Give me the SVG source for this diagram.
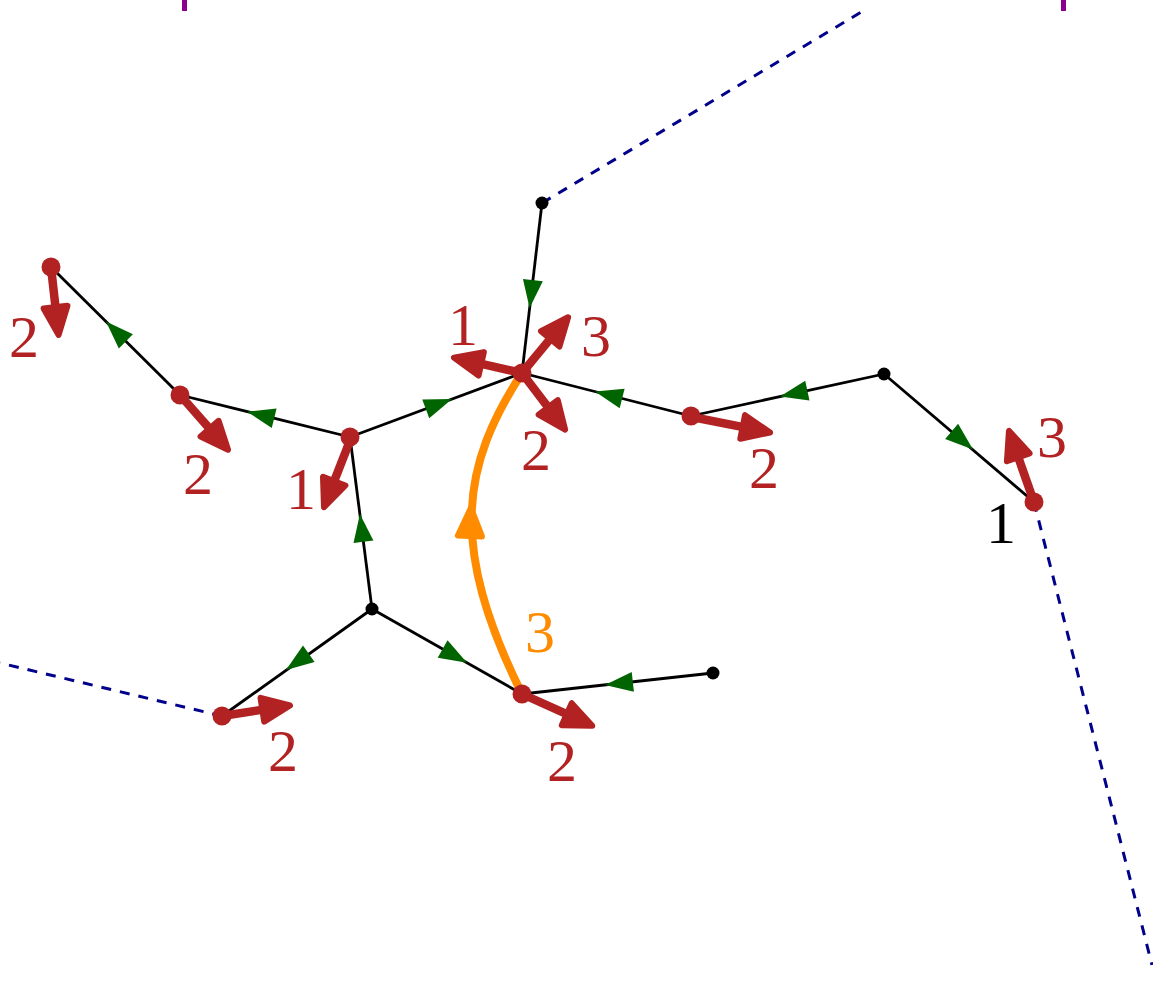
<svg xmlns="http://www.w3.org/2000/svg" xmlns:xlink="http://www.w3.org/1999/xlink" width="1153" height="993" viewBox="0 0 1153 993">
<style>
.edge{stroke:#000;stroke-width:2.8;fill:none}
.dash{stroke:#00008B;stroke-width:3;fill:none;stroke-dasharray:10 9}
.garr{fill:#006400}
.shaft{stroke:#B22222;stroke-width:8.5;fill:none}
.rhead{fill:#B22222;stroke:#B22222;stroke-width:6;stroke-linejoin:round}
.ohead{fill:#FF8C00;stroke:#FF8C00;stroke-width:6;stroke-linejoin:round}
.rdot{fill:#B22222}
.bdot{fill:#000}
.lbl{font-family:"Liberation Serif","DejaVu Serif",serif;font-size:60px;text-anchor:middle}
.red{fill:#B22222}
.blk{fill:#000}
.org{fill:#FF8C00}
</style>
<defs>
<path id="g" d="M0,0 L-28,-10 L-28,10 Z"/>
<path id="h" d="M-3,0 L-31,-12 L-31,12 Z"/>
</defs>
<g id="ticks">
<rect x="182" y="0" width="5" height="11" fill="#8B008B"/>
<rect x="1061" y="0" width="5" height="11" fill="#8B008B"/>
</g>
<g id="connectors">
<path class="dash" d="M542,203 L863,11"/>
<path class="dash" d="M1034,502 L1152,965"/>
<path class="dash" d="M222,716 L0,663"/>
<path class="edge" d="M542,203 L522,373"/>
<path class="edge" d="M350,437 L522,373"/>
<path class="edge" d="M350,437 L180,395"/>
<path class="edge" d="M180,395 L51,267"/>
<path class="edge" d="M691,416 L522,373"/>
<path class="edge" d="M884,374 L691,416"/>
<path class="edge" d="M884,374 L1034,502"/>
<path class="edge" d="M372,609 L350,437"/>
<path class="edge" d="M372,609 L222,716"/>
<path class="edge" d="M372,609 L522,694"/>
<path class="edge" d="M713,673 L522,694"/>
<use href="#g" class="garr" transform="translate(529.6,308) rotate(96.7)"/>
<use href="#g" class="garr" transform="translate(452,399) rotate(-20.4)"/>
<use href="#g" class="garr" transform="translate(247,411.6) rotate(-166.1)"/>
<use href="#g" class="garr" transform="translate(106,321.6) rotate(-135.2)"/>
<use href="#g" class="garr" transform="translate(595,391.6) rotate(-165.7)"/>
<use href="#g" class="garr" transform="translate(780,396.6) rotate(167.7)"/>
<use href="#g" class="garr" transform="translate(973,449.4) rotate(40.3)"/>
<use href="#g" class="garr" transform="translate(359.9,514) rotate(-97.3)"/>
<use href="#g" class="garr" transform="translate(286,670) rotate(144.5)"/>
<use href="#g" class="garr" transform="translate(467,662.8) rotate(29.5)"/>
<use href="#g" class="garr" transform="translate(605,684.9) rotate(173.7)"/>
<path d="M522,694 C448,545 462,465 522,373" stroke="#FF8C00" stroke-width="8" fill="none"/>
<use href="#h" class="ohead" transform="translate(471,505) rotate(-88)"/>
</g>
<g id="arrows">
<g transform="translate(51,267) rotate(83.6)"><path class="shaft" d="M0,0 H51.4"/><use href="#h" class="rhead" transform="translate(71.4,0)"/></g>
<g transform="translate(180,395) rotate(48.7)"><path class="shaft" d="M0,0 H55.8"/><use href="#h" class="rhead" transform="translate(75.8,0)"/></g>
<g transform="translate(351,438) rotate(111.3)"><path class="shaft" d="M0,0 H57.3"/><use href="#h" class="rhead" transform="translate(77.3,0)"/></g>
<g transform="translate(522,373) rotate(-167.3)"><path class="shaft" d="M0,0 H52.8"/><use href="#h" class="rhead" transform="translate(72.8,0)"/></g>
<g transform="translate(522,373) rotate(-50.4)"><path class="shaft" d="M0,0 H55.3"/><use href="#h" class="rhead" transform="translate(75.3,0)"/></g>
<g transform="translate(522,373) rotate(52.7)"><path class="shaft" d="M0,0 H54.2"/><use href="#h" class="rhead" transform="translate(74.2,0)"/></g>
<g transform="translate(692,417) rotate(11.2)"><path class="shaft" d="M0,0 H62.6"/><use href="#h" class="rhead" transform="translate(82.6,0)"/></g>
<g transform="translate(1034,502) rotate(-109.4)"><path class="shaft" d="M0,0 H58.4"/><use href="#h" class="rhead" transform="translate(78.4,0)"/></g>
<g transform="translate(222,716) rotate(-8.8)"><path class="shaft" d="M0,0 H51.8"/><use href="#h" class="rhead" transform="translate(71.8,0)"/></g>
<g transform="translate(522,694) rotate(24.3)"><path class="shaft" d="M0,0 H60.1"/><use href="#h" class="rhead" transform="translate(80.1,0)"/></g>
</g>
<g id="nA"><circle class="rdot" cx="51" cy="267" r="9.5"/><text class="lbl red" x="24" y="357">2</text></g>
<g id="nB"><circle class="rdot" cx="180" cy="395" r="9.5"/><text class="lbl red" x="198" y="494">2</text></g>
<g id="nC"><circle class="rdot" cx="350" cy="437" r="9.5"/><text class="lbl red" x="301" y="509">1</text></g>
<g id="nD"><circle class="rdot" cx="522" cy="373" r="9.5"/><text class="lbl red" x="463" y="345">1</text><text class="lbl red" x="596" y="356">3</text><text class="lbl red" x="536" y="470">2</text></g>
<g id="nE"><circle class="bdot" cx="542" cy="203" r="6.5"/></g>
<g id="nF"><circle class="rdot" cx="691" cy="416" r="9.5"/><text class="lbl red" x="764" y="488">2</text></g>
<g id="nG"><circle class="bdot" cx="884" cy="374" r="6.5"/></g>
<g id="nH"><circle class="rdot" cx="1034" cy="502" r="9.5"/><text class="lbl red" x="1052" y="457">3</text><text class="lbl blk" x="1001" y="543">1</text></g>
<g id="nI"><circle class="bdot" cx="372" cy="609" r="6.5"/></g>
<g id="nJ"><circle class="rdot" cx="222" cy="716" r="9.5"/><text class="lbl red" x="283" y="771">2</text></g>
<g id="nK"><circle class="rdot" cx="522" cy="694" r="9.5"/><text class="lbl red" x="562" y="781">2</text><text class="lbl org" x="540" y="652">3</text></g>
<g id="nL"><circle class="bdot" cx="713" cy="673" r="6.5"/></g>
</svg>
